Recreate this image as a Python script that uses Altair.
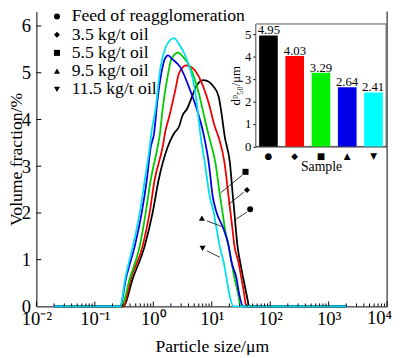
import json
import altair as alt
import pandas as pd

# ---------------- data ----------------
SERIES = ["Feed of reagglomeration", "3.5 kg/t oil", "5.5 kg/t oil", "9.5 kg/t oil", "11.5 kg/t oil"]
LINE_COLORS = ["#000000", "#ee0000", "#00cc00", "#0000e0", "#00e0ea"]
BAR_COLORS = ["#000000", "#ff0000", "#00f000", "#0000e8", "#00ffff"]
SHAPES = ["circle", "diamond", "square", "triangle-up", "triangle-down"]
MARKER_CHARS = ["●", "◆", "■", "▲", "▼"]

FEED_X = [0.02, 0.304, 0.449, 0.714, 0.975, 1.23, 1.75, 2.25, 2.78, 3.12, 3.79, 4.60, 5.58, 7.33,
          10.8, 13.1, 14.7, 16.6, 20.5, 23.0, 24.4, 25.8, 27.5, 30.5, 34.5, 39.5, 44.0, 2000]
FEED_Y = [0, 0, 0.61, 1.30, 2.01, 2.70, 3.40, 3.70, 3.86, 4.07, 4.23, 4.49, 4.74, 4.84,
          4.70, 4.49, 4.13, 3.65, 3.06, 2.35, 2.01, 1.66, 1.30, 0.96, 0.61, 0.25, 0, 0]

OIL35_X = [0.02, 0.304, 0.415, 0.660, 0.867, 1.05, 1.44, 1.61, 1.88, 2.38, 2.74, 3.65, 4.92, 6.04,
           8.91, 11.2, 13.1, 16.6, 19.4, 20.9, 22.6, 24.4, 28.5, 32.1, 36.0, 38.9, 2000]
OIL35_Y = [0, 0, 0.61, 1.30, 2.01, 2.70, 3.40, 3.75, 4.07, 4.63, 4.98, 5.16, 5.08, 4.91,
           4.34, 3.86, 3.62, 3.06, 2.35, 2.01, 1.66, 1.30, 0.96, 0.61, 0.25, 0, 0]

OIL55_X = [0.02, 0.282, 0.399, 0.589, 0.743, 0.901, 1.18, 1.30, 1.44, 1.75, 2.04, 2.64, 3.33, 4.26,
           6.04, 7.62, 8.91, 11.6, 13.9, 15.3, 16.8, 19.4, 21.7, 24.4, 28.5, 30.8, 2000]
OIL55_Y = [0, 0, 0.61, 1.30, 2.01, 2.70, 3.40, 3.70, 4.21, 4.91, 5.29, 5.43, 5.32, 5.12,
           4.55, 4.00, 3.65, 3.06, 2.35, 2.01, 1.66, 1.30, 0.96, 0.61, 0.25, 0, 0]

OIL95_X = [0.02, 0.271, 0.342, 0.484, 0.635, 0.773, 0.901, 1.03, 1.18, 1.44, 1.57, 1.79, 2.12, 2.89,
           4.26, 5.58, 7.2, 8.91, 10.4, 12.1, 15.9, 19.4, 21.7, 26.4, 29.6, 34.7, 2000]
OIL95_Y = [0, 0, 0.61, 1.30, 2.01, 2.70, 3.40, 3.70, 4.42, 5.12, 5.29, 5.37, 5.29, 5.12,
           4.63, 4.21, 3.70, 3.06, 2.35, 2.01, 1.66, 1.30, 0.96, 0.61, 0.25, 0, 0]

OIL115_X = [0.02, 0.271, 0.332, 0.449, 0.589, 0.714, 0.867, 0.937, 1.09, 1.33, 1.61, 1.88, 2.26, 2.78,
            3.51, 5.58, 6.28, 7.62, 9.25, 10.8, 12.1, 13.6, 15.9, 17.9, 20.1, 23.5, 2000]
OIL115_Y = [0, 0, 0.61, 1.30, 2.01, 2.70, 3.40, 3.75, 4.21, 5.12, 5.53, 5.68, 5.74, 5.60,
            5.37, 4.32, 3.75, 3.06, 2.35, 2.01, 1.66, 1.30, 0.96, 0.61, 0.25, 0, 0]

D50 = [4.95, 4.03, 3.29, 2.64, 2.41]

# annotation markers and their leader lines (data coordinates)
ANN_MX = [45.4, 40.0, 37.8, 6.79, 6.97]
ANN_MY = [2.08, 2.49, 2.88, 1.89, 1.24]
ANN_X1 = [40.0, 35.1, 33.3, 8.24, 8.24]
ANN_Y1 = [2.02, 2.44, 2.81, 1.83, 1.19]
ANN_X2 = [26.4, 19.1, 14.2, 14.8, 13.8]
ANN_Y2 = [1.87, 2.18, 2.43, 1.71, 1.05]

X_DECADES = [0.01, 0.1, 1, 10, 100, 1000, 10000]
X_TICK_LABELS = ["10⁻²", "10⁻¹", "10⁰", "10¹", "10²", "10³", "10⁴"]
X_MINOR = [m * d for d in X_DECADES[:-1] for m in range(2, 10)]
Y_TICKS = [0, 1, 2, 3, 4, 5, 6]
INSET_Y_TICKS = [0, 1, 2, 3, 4, 5]

# ---------------- layout ----------------
W, H = 358, 301
SERIF = "Liberation Serif"

XS = [FEED_X, OIL35_X, OIL55_X, OIL95_X, OIL115_X]
YS = [FEED_Y, OIL35_Y, OIL55_Y, OIL95_Y, OIL115_Y]
curves = pd.concat(
    [pd.DataFrame({"series": s, "order": SERIES.index(s), "size": x, "frac": y}) for s, x, y in zip(SERIES, XS, YS)],
    ignore_index=True,
)
ann = pd.DataFrame({"series": SERIES, "mx": ANN_MX, "my": ANN_MY,
                    "x1": ANN_X1, "y1": ANN_Y1, "x2": ANN_X2, "y2": ANN_Y2})
inset = pd.DataFrame({"series": SERIES, "d50": D50})
one = pd.DataFrame({"a": [0]})
last_label = pd.DataFrame({"v": X_DECADES[-1:], "t": X_TICK_LABELS[-1:]})


def xs():
    return alt.Scale(type="log", domain=[0.01, 10000], nice=False)


def ys():
    return alt.Scale(domain=[0, 6.31], nice=False, zero=False)


xlab = ("datum.value > 5000 ? '' : ["
        + ",".join(json.dumps(t, ensure_ascii=False) for t in X_TICK_LABELS)
        + "][round(log(datum.value)/LN10)+2]")

lines = alt.Chart(curves).mark_line(strokeWidth=1.8, interpolate="monotone").encode(
    x=alt.X("size:Q", scale=xs(), axis=alt.Axis(
        values=X_DECADES, labelExpr=xlab, ticks=False, grid=False, orient="bottom",
        labelFont=SERIF, labelFontSize=19, labelPadding=3, labelOverlap=False, labelFlush=False,
        title="Particle size/μm", titleFont=SERIF, titleFontSize=18, titleFontWeight="normal",
        titlePadding=10)),
    y=alt.Y("frac:Q", scale=ys(), axis=alt.Axis(
        values=Y_TICKS, ticks=False, grid=False, orient="left",
        labelFont=SERIF, labelFontSize=19, labelPadding=6,
        title="Volume fraction/%", titleFont=SERIF, titleFontSize=18, titleFontWeight="normal",
        titlePadding=-4)),
    color=alt.Color("series:N", scale=alt.Scale(domain=SERIES, range=LINE_COLORS), legend=None),
    detail="order:O",
)

# last x tick label, right-aligned so it stays inside the picture
last_tick_label = alt.Chart(last_label).mark_text(
    align="right", baseline="top", dx=5, font=SERIF, fontSize=19, color="black"
).encode(x=alt.X("v:Q", scale=xs(), axis=None), y=alt.value(H + 3), text="t:N")

major = alt.Chart(pd.DataFrame({"v": X_DECADES})).mark_rule(color="black", strokeWidth=1).encode(
    x=alt.X("v:Q", scale=xs(), axis=None), y=alt.value(H), y2=alt.value(H - 5))
minor = alt.Chart(pd.DataFrame({"v": X_MINOR})).mark_rule(color="black", strokeWidth=1).encode(
    x=alt.X("v:Q", scale=xs(), axis=None), y=alt.value(H), y2=alt.value(H - 3))
yt = alt.Chart(pd.DataFrame({"v": Y_TICKS[1:]})).mark_rule(color="black", strokeWidth=1).encode(
    y=alt.Y("v:Q", scale=ys(), axis=None), x=alt.value(0), x2=alt.value(5))
border = alt.Chart(one).mark_rule(color="black", strokeWidth=1).encode(
    x=alt.value(W), y=alt.value(0), y2=alt.value(H))

leaders = alt.Chart(ann).mark_rule(color="black", strokeWidth=0.8).encode(
    x=alt.X("x1:Q", scale=xs(), axis=None), y=alt.Y("y1:Q", scale=ys(), axis=None),
    x2="x2:Q", y2="y2:Q")
points = alt.Chart(ann).mark_point(filled=True, size=38, color="black", opacity=1).encode(
    x=alt.X("mx:Q", scale=xs(), axis=None), y=alt.Y("my:Q", scale=ys(), axis=None),
    shape=alt.Shape("series:N", scale=alt.Scale(domain=SERIES, range=SHAPES), legend=alt.Legend(
        title=None, orient="none", legendX=12, legendY=-4, padding=0,
        labelFont=SERIF, labelFontSize=18, labelColor="black", labelLimit=400, labelOffset=6,
        symbolSize=38, symbolFillColor="black", symbolStrokeColor="black", symbolOpacity=1,
        rowPadding=0.6)),
)

# ---------------- inset ----------------
IX0, IX1, IY0, IY1 = 224, 357, 137.7, 12.7


def ix():
    return alt.Scale(domain=SERIES, range=[IX0, IX1], paddingInner=0.29, paddingOuter=0.125)


def iy():
    return alt.Scale(domain=[0, 5.46], range=[IY0, IY1], nice=False, zero=False)


sym_expr = " : ".join(f"datum.value == {json.dumps(s)} ? {json.dumps(c, ensure_ascii=False)}"
                      for s, c in zip(SERIES, MARKER_CHARS)) + " : ''"

frame = alt.Chart(one).mark_rect(fill="white", stroke="#555555", strokeWidth=1).encode(
    x=alt.value(IX0), x2=alt.value(IX1), y=alt.value(IY1), y2=alt.value(IY0))
bars = alt.Chart(inset).mark_bar().encode(
    x=alt.X("series:N", scale=ix(), sort=SERIES, axis=alt.Axis(
        orient="bottom", offset=-(H - IY0), labelExpr=sym_expr, labelAngle=0,
        labelFont="DejaVu Sans", labelFontSize=9, labelColor="black", labelPadding=5,
        ticks=False, domainColor="black",
        title="Sample", titleFont=SERIF, titleFontSize=14, titleFontWeight="normal",
        titlePadding=0)),
    y=alt.Y("d50:Q", scale=iy(), axis=alt.Axis(
        orient="left", offset=-IX0, values=INSET_Y_TICKS, tickSize=3, tickColor="black",
        grid=False, labelFont=SERIF, labelFontSize=13, labelPadding=2, labelColor="black",
        domainColor="black",
        title="dᵖ₅₀/μm", titleFont=SERIF, titleFontSize=13, titleFontWeight="normal",
        titlePadding=2)),
    color=alt.Color("series:N", scale=alt.Scale(domain=SERIES, range=BAR_COLORS), legend=None),
)
vals = alt.Chart(inset).mark_text(baseline="alphabetic", dy=-1, font=SERIF, fontSize=13, color="black").encode(
    x=alt.X("series:N", scale=ix(), sort=SERIES, axis=None),
    y=alt.Y("d50:Q", scale=iy(), axis=None),
    text=alt.Text("d50:Q", format=".2f"),
)

chart = alt.layer(
    lines, last_tick_label, major, minor, yt, border, leaders, points, frame, bars, vals
).resolve_scale(
    x="independent", y="independent", color="independent"
).properties(
    width=W, height=H,
    autosize=alt.AutoSizeParams(type="none"),
    padding={"left": 29, "top": 0, "right": 5, "bottom": 46},
    background="white",
).configure_view(stroke=None).configure_axis(
    domainColor="black", domainWidth=1, labelColor="black", titleColor="black"
)

chart.save("out.html", embed_options={"renderer": "svg", "actions": False})
